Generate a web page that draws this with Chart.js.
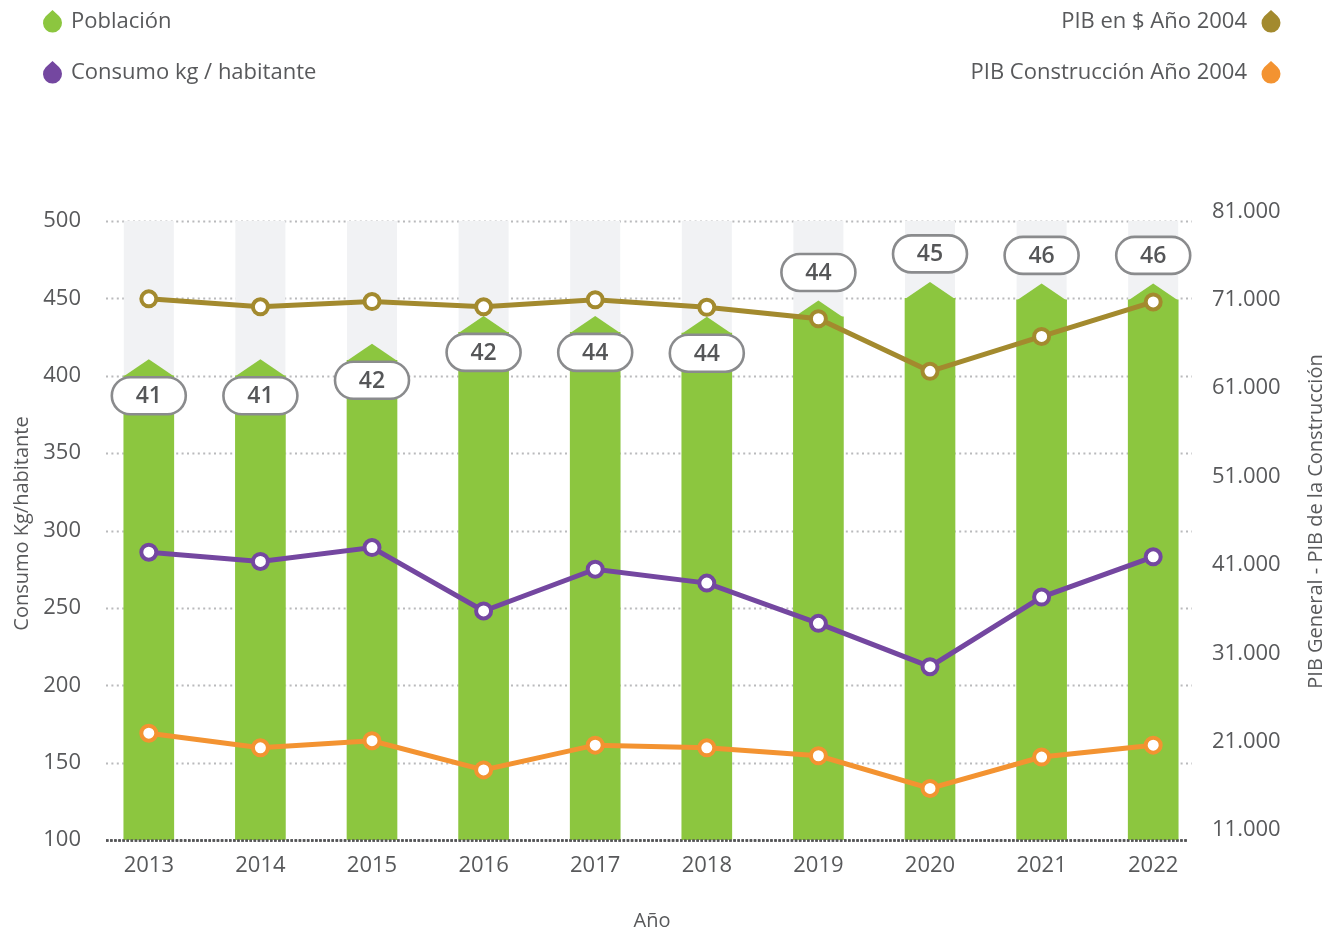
<!DOCTYPE html>
<html>
<head>
<meta charset="utf-8">
<script src="https://cdn.jsdelivr.net/npm/chart.js@4"></script>
<style>
  html, body { margin: 0; padding: 0; background: #ffffff; }
  #wrap { width: 1341px; height: 933px; position: relative; }
</style>
</head>
<body>
<div id="wrap"><canvas id="c" width="1341" height="933"></canvas></div>
<script>
// ---------- DATA ----------
const years = ['2013','2014','2015','2016','2017','2018','2019','2020','2021','2022'];
// Población (millones) – altura de barra y etiqueta mostrada
const poblacion = [41.0, 41.0, 42.0, 43.8, 43.8, 43.75, 44.8, 46.0, 45.9, 45.9];
const poblacionLabels = [41, 41, 42, 42, 44, 44, 44, 45, 46, 46];
// Consumo kg / habitante (eje izquierdo)
const consumo = [286, 280, 289, 248, 275, 266, 240, 212, 257, 283];
// PIB en $ Año 2004 (eje derecho)
const pibGeneral = [71100, 70200, 70800, 70200, 71000, 70150, 68850, 62900, 66850, 70750];
// PIB Construcción Año 2004 (eje derecho)
const pibConstruccion = [21950, 20300, 21100, 17800, 20600, 20300, 19400, 15700, 19250, 20600];
// Ticks
const leftTicks = [100, 150, 200, 250, 300, 350, 400, 450, 500];
const rightTicks = [11000, 21000, 31000, 41000, 51000, 61000, 71000, 81000];

// ---------- STYLE ----------
const FONT = "'Open Sans', 'DejaVu Sans', sans-serif";
const TXT = '#58595b';
const GREEN = '#8cc63f';
const COLBG = '#f1f2f4';
const GOLD = '#a38a2e';
const PURPLE = '#7447a0';
const ORANGE = '#f39331';

function fmtThousands(v) {
  return String(v).replace(/\B(?=(\d{3})+(?!\d))/g, '.');
}

// grey columns behind bars + arrow tips on bars
const barDecor = {
  id: 'barDecor',
  beforeDatasetsDraw(chart) {
    const meta = chart.getDatasetMeta(0);
    const ctx = chart.ctx, top = chart.chartArea.top, bottom = chart.chartArea.bottom;
    ctx.save();
    ctx.fillStyle = COLBG;
    meta.data.forEach(b => {
      ctx.fillRect(b.x - b.width / 2, top, b.width, bottom - top);
    });
    ctx.restore();
  },
  afterDatasetDraw(chart, args) {
    if (args.index !== 0) return;
    const meta = chart.getDatasetMeta(0);
    const ctx = chart.ctx;
    ctx.save();
    ctx.fillStyle = GREEN;
    meta.data.forEach(b => {
      const l = b.x - b.width / 2, r = b.x + b.width / 2;
      ctx.beginPath();
      ctx.moveTo(l, b.y + 0.5);
      ctx.lineTo(b.x, b.y - 16.5);
      ctx.lineTo(r, b.y + 0.5);
      ctx.closePath();
      ctx.fill();
    });
    ctx.restore();
  }
};

// dotted grid lines
const dottedGrid = {
  id: 'dottedGrid',
  beforeDatasetsDraw(chart) {
    const ctx = chart.ctx, ys = chart.scales.y, ca = chart.chartArea;
    const x0 = ca.left + 13, x1 = ca.right - 17;
    ctx.save();
    leftTicks.forEach(v => {
      const y = Math.round(ys.getPixelForValue(v));
      ctx.beginPath();
      if (v === leftTicks[0]) {
        ctx.strokeStyle = '#555658';
        ctx.lineWidth = 2.5;
        ctx.setLineDash([2.5, 1.6]);
        ctx.moveTo(x0, y + 0.5); ctx.lineTo(x1 - 5, y + 0.5);
      } else {
        ctx.strokeStyle = '#b9babc';
        ctx.lineWidth = 2;
        ctx.setLineDash([2, 3.4]);
        ctx.moveTo(x0, y + 0.5); ctx.lineTo(x1, y + 0.5);
      }
      ctx.stroke();
    });
    ctx.restore();
  },
  afterDatasetsDraw(chart) {
    const ctx = chart.ctx, ys = chart.scales.y, ca = chart.chartArea;
    const x0 = ca.left + 13, x1 = ca.right - 22;
    const y = Math.round(ys.getPixelForValue(leftTicks[0]));
    ctx.save();
    ctx.strokeStyle = '#555658';
    ctx.lineWidth = 2.5;
    ctx.setLineDash([2.5, 1.6]);
    ctx.beginPath();
    ctx.moveTo(x0, y + 0.5); ctx.lineTo(x1, y + 0.5);
    ctx.stroke();
    ctx.restore();
  }
};

// pill value labels for population
function roundRect(ctx, x, y, w, h, r) {
  ctx.beginPath();
  ctx.moveTo(x + r, y);
  ctx.lineTo(x + w - r, y);
  ctx.arc(x + w - r, y + r, r, -Math.PI / 2, Math.PI / 2);
  ctx.lineTo(x + r, y + h);
  ctx.arc(x + r, y + r, r, Math.PI / 2, Math.PI * 1.5);
  ctx.closePath();
}
const pillLabels = {
  id: 'pillLabels',
  afterDatasetsDraw(chart) {
    const ctx = chart.ctx;
    const bars = chart.getDatasetMeta(0).data;
    const gold = chart.getDatasetMeta(2).data;
    ctx.save();
    bars.forEach((b, i) => {
      const tipY = b.y - 16.5;
      const w = 74, h = 37;
      let cy;
      if (gold[i].y < tipY) cy = b.y + 20;      // line above bar: label sits on the bar
      else cy = tipY - 28;                       // line crosses bar: label above bar
      const x = b.x - w / 2, y = cy - h / 2;
      roundRect(ctx, x, y, w, h, h / 2);
      ctx.fillStyle = '#ffffff';
      ctx.fill();
      ctx.lineWidth = 2.6;
      ctx.strokeStyle = '#8a8b8d';
      ctx.stroke();
      ctx.fillStyle = '#555658';
      ctx.font = "600 23px " + FONT;
      ctx.textAlign = 'center';
      ctx.textBaseline = 'middle';
      ctx.fillText(String(poblacionLabels[i]), b.x, cy + 1);
    });
    ctx.restore();
  }
};

// legend with drop icons + axis titles
function drop(ctx, cx, top, color) {
  const r = 9.5, cy = top + 22.5 - r;
  const d = cy - top;
  const a = Math.acos(r / d);
  ctx.beginPath();
  ctx.moveTo(cx, top);
  ctx.arc(cx, cy, r, -Math.PI / 2 + a, -Math.PI / 2 - a + 2 * Math.PI);
  ctx.closePath();
  ctx.fillStyle = color;
  ctx.fill();
}
const legendTitles = {
  id: 'legendTitles',
  afterDraw(chart) {
    const ctx = chart.ctx;
    const ds = chart.data.datasets;
    ctx.save();
    ctx.font = "22px " + FONT;
    ctx.fillStyle = TXT;
    ctx.textBaseline = 'middle';
    const rowsY = [22, 73];
    [0, 1].forEach((k, j) => {
      drop(ctx, 52.5, rowsY[j] - 12, ds[k].legendColor);
      ctx.fillStyle = TXT;
      ctx.textAlign = 'left';
      ctx.fillText(ds[k].label, 71, rowsY[j]);
    });
    [2, 3].forEach((k, j) => {
      drop(ctx, 1271, rowsY[j] - 12, ds[k].legendColor);
      ctx.fillStyle = TXT;
      ctx.textAlign = 'right';
      ctx.fillText(ds[k].label, 1247, rowsY[j]);
    });
    const ca = chart.chartArea;
    const midY = (ca.top + ca.bottom) / 2;
    ctx.font = "20px " + FONT;
    ctx.textAlign = 'center';
    ctx.save();
    ctx.translate(22, midY - 7);
    ctx.rotate(-Math.PI / 2);
    ctx.fillText('Consumo Kg/habitante', 0, 0);
    ctx.restore();
    ctx.save();
    ctx.translate(1316, midY - 9);
    ctx.rotate(-Math.PI / 2);
    ctx.fillText('PIB General - PIB de la Construcción', 0, 0);
    ctx.restore();
    ctx.font = "20px " + FONT;
    ctx.fillText('Año', 652, 921);
    ctx.restore();
  }
};

// right axis geometry (labels sit slightly above left-axis gridlines)
const R_MIN = 9867, R_MAX = 79911;

new Chart(document.getElementById('c'), {
  type: 'bar',
  data: {
    labels: years,
    datasets: [
      {
        type: 'bar', label: 'Población', data: poblacion, yAxisID: 'yPop',
        backgroundColor: GREEN, legendColor: GREEN, barThickness: 50, order: 10
      },
      {
        type: 'line', label: 'Consumo kg / habitante', data: consumo, yAxisID: 'y',
        borderColor: PURPLE, legendColor: PURPLE, borderWidth: 5, tension: 0,
        pointRadius: 7.5, pointBorderWidth: 4, pointBackgroundColor: '#ffffff',
        pointBorderColor: PURPLE, order: 3
      },
      {
        type: 'line', label: 'PIB en $ Año 2004', data: pibGeneral, yAxisID: 'yR',
        borderColor: GOLD, legendColor: GOLD, borderWidth: 5, tension: 0,
        pointRadius: 7.5, pointBorderWidth: 4, pointBackgroundColor: '#ffffff',
        pointBorderColor: GOLD, order: 2
      },
      {
        type: 'line', label: 'PIB Construcción Año 2004', data: pibConstruccion, yAxisID: 'yR',
        borderColor: ORANGE, legendColor: ORANGE, borderWidth: 5, tension: 0,
        pointRadius: 7.5, pointBorderWidth: 4, pointBackgroundColor: '#ffffff',
        pointBorderColor: ORANGE, order: 1
      }
    ]
  },
  options: {
    responsive: false,
    animation: false,
    events: [],
    layout: { padding: { top: 221, left: 0, right: 0, bottom: 0 } },
    plugins: { legend: { display: false }, tooltip: { enabled: false }, title: { display: false } },
    scales: {
      x: {
        offset: true,
        grid: { display: false, drawTicks: false },
        border: { display: false },
        ticks: { color: TXT, font: { family: FONT, size: 22 }, padding: 13 },
        afterFit(s) { s.height = 93; }
      },
      y: {
        position: 'left', min: 100, max: 500,
        grid: { display: false, drawTicks: false },
        border: { display: false },
        afterBuildTicks(s) { s.ticks = leftTicks.map(v => ({ value: v })); },
        ticks: { color: TXT, font: { family: FONT, size: 22 }, padding: 12 },
        afterFit(s) { s.width = 93; }
      },
      yR: {
        position: 'right', min: R_MIN, max: R_MAX,
        grid: { display: false, drawTicks: false },
        border: { display: false },
        afterBuildTicks(s) { s.ticks = rightTicks.map(v => ({ value: v })); },
        ticks: { color: TXT, font: { family: FONT, size: 22 }, padding: 3,
                 callback: v => fmtThousands(v) },
        afterFit(s) { s.width = 132; }
      },
      yPop: {
        display: false, min: 11, max: 51
      }
    }
  },
  plugins: [dottedGrid, barDecor, pillLabels, legendTitles]
});
</script>
</body>
</html>
